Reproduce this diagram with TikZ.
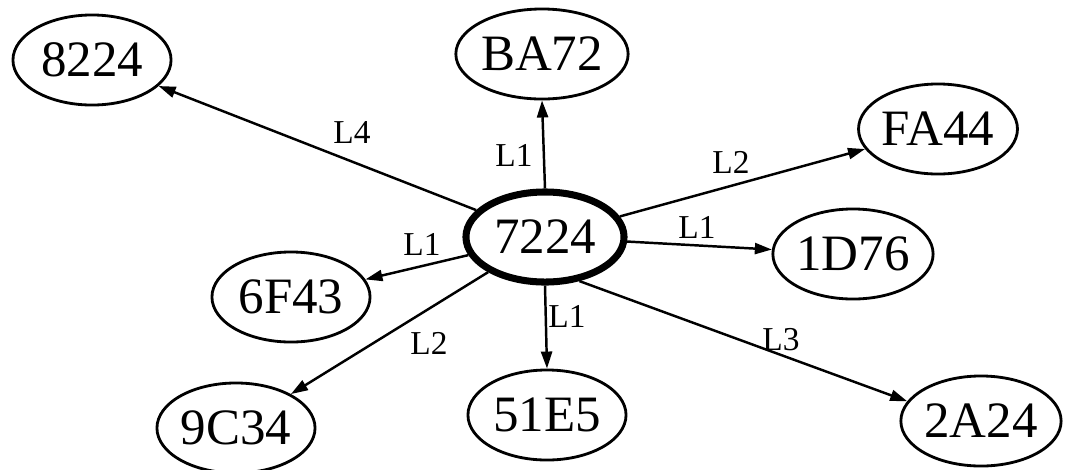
\documentclass[tikz,border=0pt]{standalone}
\usepackage{fontspec}
\setmainfont{Liberation Serif}
\usetikzlibrary{shapes.geometric, arrows.meta}

\begin{document}
\begin{tikzpicture}[x=0.01cm, y=-0.01cm,
  main/.style = {draw, ellipse, line width=0.8pt, minimum width=1.58cm, minimum height=0.9cm, inner sep=0pt, font=\fontsize{14.5}{16}\selectfont},
  link/.style = {line width=0.7pt, -{Triangle[length=1.7mm, width=1.1mm]}},
  lbl/.style = {inner sep=0pt, font=\fontsize{9.5}{11}\selectfont}]
  \useasboundingbox (0,0) rectangle (1069,469);
  \node[main, line width=2pt] (7224) at (545,237) {7224};
  \node[main] (8224) at (92,60) {8224};
  \node[main] (BA72) at (542,54) {BA72};
  \node[main] (FA44) at (938,129) {FA44};
  \node[main] (1D76) at (853,254) {1D76};
  \node[main] (2A24) at (981,421) {2A24};
  \node[main] (51E5) at (547,415) {51E5};
  \node[main] (6F43) at (291,297) {6F43};
  \node[main] (9C34) at (236,428) {9C34};
  \draw[link] (7224) -- (8224);
  \draw[link] (7224.north) -- (BA72.south);
  \draw[link] (7224) -- (FA44);
  \draw[link] (7224) -- (1D76);
  \draw[link] (7224.-52) -- (2A24.165);
  \draw[link] (7224.south) -- (51E5.north);
  \draw[link] (7224) -- (6F43);
  \draw[link] (7224) -- (9C34);
  \node[lbl] (l4) at (352,132) {L4};
  \node[lbl] (l1a) at (514,155) {L1};
  \node[lbl] (l2a) at (731,162) {L2};
  \node[lbl] (l1b) at (697,227) {L1};
  \node[lbl] (l3) at (781,340) {L3};
  \node[lbl] (l1c) at (567,316) {L1};
  \node[lbl] (l1d) at (422,244) {L1};
  \node[lbl] (l2b) at (429,343) {L2};
\end{tikzpicture}
\end{document}
